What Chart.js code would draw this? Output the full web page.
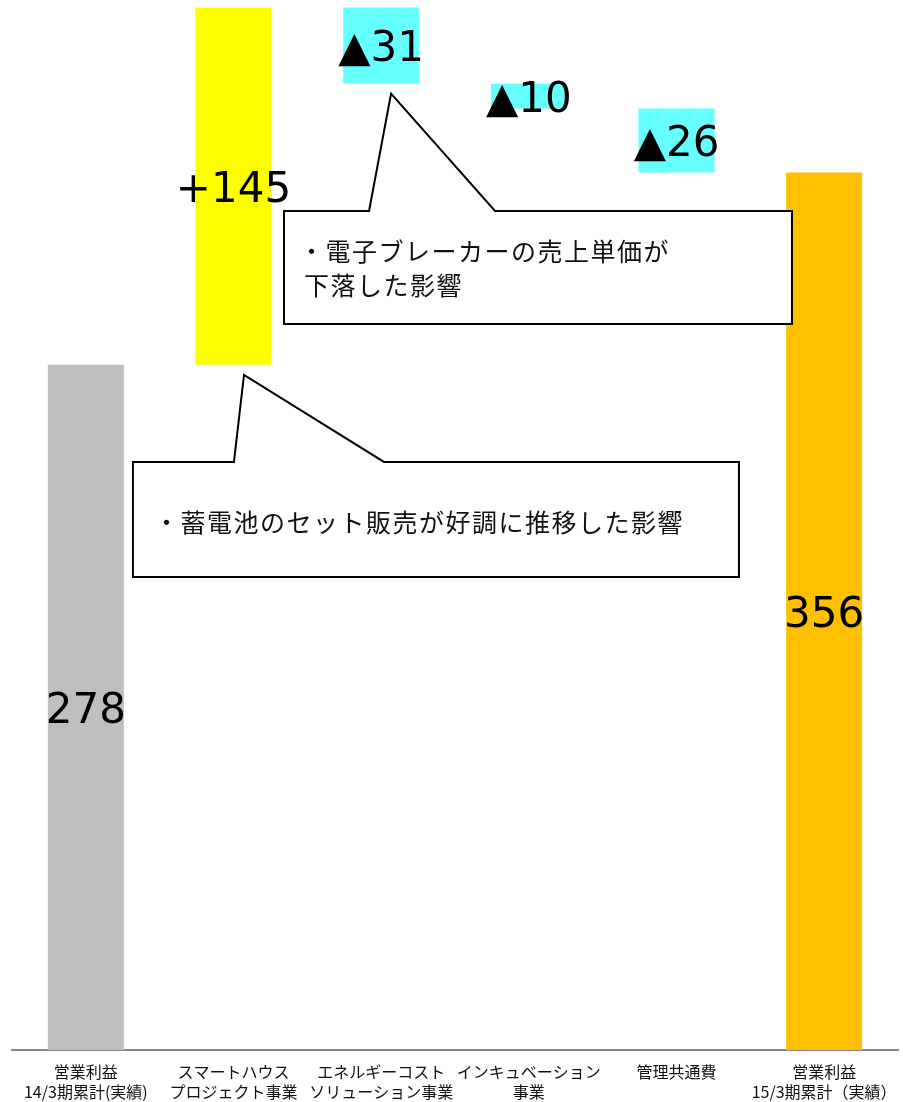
<!DOCTYPE html>
<html><head><meta charset="utf-8">
<script src="https://cdn.jsdelivr.net/npm/chart.js@4/dist/chart.umd.min.js"></script>
<style>html,body{margin:0;padding:0;background:#fff;} #wrap{width:903px;height:1102px;position:relative;}</style>
</head><body><div id="wrap"><canvas id="c"></canvas></div>
<script>
// ---- data ----
const categories = [
  ["営業利益", "14/3期累計(実績)"],
  ["スマートハウス", "プロジェクト事業"],
  ["エネルギーコスト", "ソリューション事業"],
  ["インキュベーション", "事業"],
  ["管理共通費"],
  ["営業利益", "15/3期累計（実績）"]
];
const changes = [278, 145, -31, -10, -26, 356];
const isTotal = [true, false, false, false, false, true];
const valueLabels = ["278", "+145", "▲31", "▲10", "▲26", "356"];
const barColors = ["#BFBFBF", "#FFFF00", "#66FFFF", "#66FFFF", "#66FFFF", "#FFC000"];

// callout annotations (x in category units, y in value units)
const calloutUpperLines = ["・電子ブレーカーの売上単価が", "下落した影響"];
const calloutUpperBox = { left: 1.342, right: 4.782, top: 340.4, bottom: 294.5 };
const calloutUpperTail = { baseLeft: 1.918, tipX: 2.067, tipY: 388.0, baseRight: 2.771 };
const calloutLowerLines = ["・蓄電池のセット販売が好調に推移した影響"];
const calloutLowerBox = { left: 0.319, right: 4.423, top: 238.6, bottom: 191.9 };
const calloutLowerTail = { baseLeft: 1.003, tipX: 1.071, tipY: 273.9, baseRight: 2.019 };

// build floating ranges
const ranges = [];
let running = 0;
changes.forEach((v, i) => {
  if (isTotal[i]) { ranges.push([0, v]); running = v; }
  else { ranges.push([running, running + v]); running += v; }
});

const valueLabelPlugin = {
  id: 'valueLabels',
  afterDatasetsDraw(chart) {
    const ctx = chart.ctx;
    const meta = chart.getDatasetMeta(0);
    ctx.save();
    ctx.font = '42px "DejaVu Sans"';
    ctx.fillStyle = '#000';
    ctx.textAlign = 'center';
    ctx.textBaseline = 'alphabetic';
    meta.data.forEach((bar, i) => {
      const p = bar.getProps(['x', 'y', 'base'], true);
      const cy = (p.y + p.base) / 2;
      ctx.fillText(valueLabels[i], p.x, cy + 15.5);
    });
    ctx.restore();
  }
};

function drawSpaced(ctx, text, x, y, spacing) {
  let cx = x;
  for (const ch of text) {
    ctx.fillText(ch, cx, y);
    cx += ctx.measureText(ch).width + spacing;
  }
}

function drawCallout(chart, box, tail, lines, textOffsets) {
  const ctx = chart.ctx;
  const xs = chart.scales.x, ys = chart.scales.y;
  const L = xs.getPixelForValue(box.left), R = xs.getPixelForValue(box.right);
  const T = ys.getPixelForValue(box.top), B = ys.getPixelForValue(box.bottom);
  const bl = xs.getPixelForValue(tail.baseLeft), br = xs.getPixelForValue(tail.baseRight);
  const tx = xs.getPixelForValue(tail.tipX), ty = ys.getPixelForValue(tail.tipY);
  ctx.save();
  ctx.beginPath();
  ctx.moveTo(L, T);
  ctx.lineTo(bl, T);
  ctx.lineTo(tx, ty);
  ctx.lineTo(br, T);
  ctx.lineTo(R, T);
  ctx.lineTo(R, B);
  ctx.lineTo(L, B);
  ctx.closePath();
  ctx.fillStyle = '#fff';
  ctx.fill();
  ctx.lineWidth = 2;
  ctx.lineJoin = 'miter';
  ctx.strokeStyle = '#000';
  ctx.stroke();
  ctx.font = '25px "Noto Sans CJK JP"';
  ctx.fillStyle = '#111';
  ctx.textAlign = 'left';
  ctx.textBaseline = 'middle';
  lines.forEach((ln, i) => {
    drawSpaced(ctx, ln, L + textOffsets[i][0], T + textOffsets[i][1], 1.5);
  });
  ctx.restore();
}

const calloutPlugin = {
  id: 'callouts',
  afterDraw(chart) {
    drawCallout(chart, calloutLowerBox, calloutLowerTail, calloutLowerLines, [[21, 61]]);
    drawCallout(chart, calloutUpperBox, calloutUpperTail, calloutUpperLines, [[15, 41], [20, 75]]);
  }
};

new Chart(document.getElementById('c'), {
  type: 'bar',
  data: {
    labels: categories,
    datasets: [{
      data: ranges,
      backgroundColor: barColors,
      borderWidth: 0,
      borderSkipped: false,
      barPercentage: 0.515,
      categoryPercentage: 1
    }]
  },
  options: {
    responsive: true,
    maintainAspectRatio: false,
    animation: false,
    devicePixelRatio: 1,
    layout: { padding: { left: 12, right: 5, top: 0, bottom: 0 } },
    plugins: { legend: { display: false }, tooltip: { enabled: false } },
    scales: {
      x: {
        grid: { display: false, drawTicks: false },
        border: { display: true, color: '#868686', width: 2 },
        afterFit(scale) { scale.height = 52; scale.paddingLeft = 0; scale.paddingRight = 0; },
        ticks: {
          font: { family: '"Noto Sans CJK JP"', size: 16, lineHeight: 1.25 },
          color: '#111',
          padding: 12,
          maxRotation: 0,
          minRotation: 0,
          autoSkip: false
        }
      },
      y: { display: false, min: 0, max: 426 }
    }
  },
  plugins: [valueLabelPlugin, calloutPlugin]
});
</script>
</body></html>
